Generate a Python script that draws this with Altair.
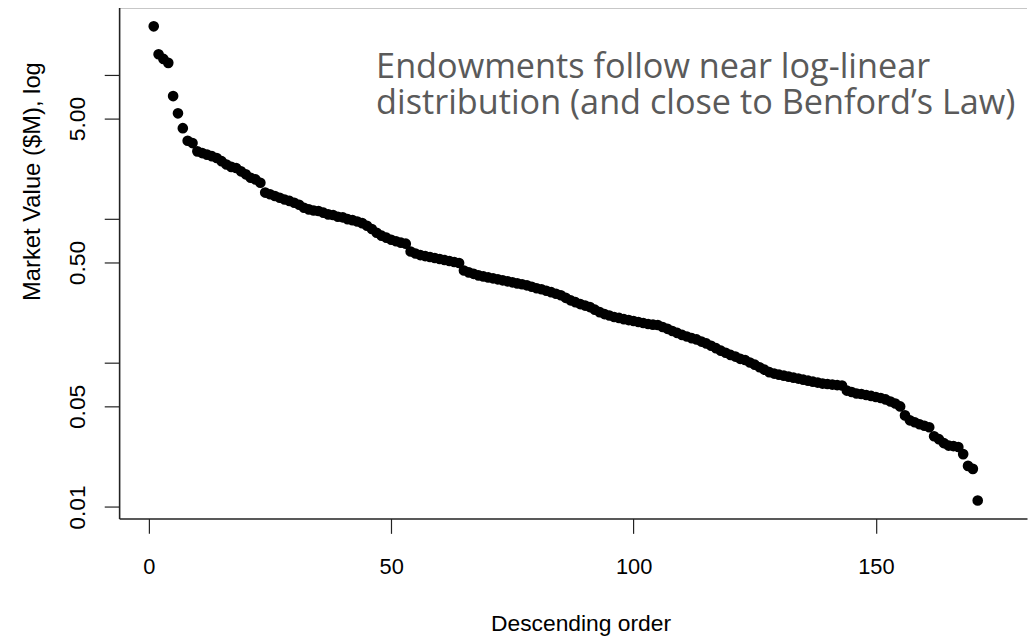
import altair as alt
import pandas as pd

# Market value ($M) of each endowment, in descending order
values = [
    21.9, 14.0, 13.0, 12.2, 7.17, 5.44, 4.29, 3.51, 3.38, 2.96,
    2.88, 2.81, 2.74, 2.66, 2.53, 2.40, 2.31, 2.27, 2.15, 2.05,
    1.94, 1.89, 1.79, 1.53, 1.49, 1.45, 1.41, 1.37, 1.34, 1.30,
    1.26, 1.20, 1.17, 1.15, 1.14, 1.11, 1.08, 1.07, 1.04, 1.03,
    1.00, 0.985, 0.963, 0.939, 0.900, 0.854, 0.805, 0.768, 0.744, 0.720,
    0.703, 0.687, 0.676, 0.596, 0.577, 0.563, 0.554, 0.546, 0.537, 0.529,
    0.520, 0.512, 0.504, 0.496, 0.440, 0.427, 0.417, 0.407, 0.400, 0.394,
    0.388, 0.382, 0.376, 0.370, 0.364, 0.358, 0.353, 0.347, 0.339, 0.331,
    0.326, 0.318, 0.311, 0.303, 0.296, 0.284, 0.273, 0.265, 0.257, 0.251,
    0.245, 0.235, 0.226, 0.219, 0.214, 0.209, 0.206, 0.202, 0.199, 0.196,
    0.193, 0.190, 0.187, 0.185, 0.184, 0.178, 0.173, 0.167, 0.162, 0.157,
    0.153, 0.149, 0.146, 0.141, 0.137, 0.132, 0.127, 0.122, 0.118, 0.114,
    0.111, 0.107, 0.105, 0.101, 0.0975, 0.0936, 0.0900, 0.0865, 0.0845, 0.0831,
    0.0818, 0.0805, 0.0792, 0.0780, 0.0767, 0.0755, 0.0743, 0.0732, 0.0720, 0.0715,
    0.0709, 0.0703, 0.0698, 0.0644, 0.0629, 0.0615, 0.0610, 0.0600, 0.0591, 0.0581,
    0.0572, 0.0559, 0.0541, 0.0524, 0.0500, 0.0433, 0.0400, 0.0388, 0.0376, 0.0367,
    0.0358, 0.0310, 0.0296, 0.0278, 0.0267, 0.0265, 0.0261, 0.0233, 0.0193, 0.0184,
    0.0111,
]
ranks = list(range(1, len(values) + 1))

x_ticks = [0, 50, 100, 150]
y_ticks = [0.01, 0.05, 0.1, 0.5, 1, 5, 10]
y_unlabelled = [0.1, 1, 10]
note_lines = ["Endowments follow near log-linear",
              "distribution (and close to Benford\u2019s Law)"]

df = pd.DataFrame({"rank": ranks, "value": values})
one_row = pd.DataFrame({"k": [0]})

W, H = 915, 515
FONT = "Liberation Sans"

hide_expr = " || ".join(f"datum.value == {v}" for v in y_unlabelled)

x_enc = alt.X(
    "rank:Q",
    scale=alt.Scale(domain=[-6.14, 181.17], nice=False, zero=False),
    axis=alt.Axis(
        values=x_ticks, title="Descending order", grid=False,
        tickSize=15, tickWidth=1.2, tickColor="#222",
        domainColor="#222", domainWidth=1.6,
        labelFont=FONT, labelFontSize=22, labelColor="black",
        labelBaseline="alphabetic", labelPadding=40, labelFlush=False,
        titleFont=FONT, titleFontSize=23, titleFontWeight="normal",
        titleColor="black", titleBaseline="alphabetic",
        titleX=465, titleY=113, titleAlign="center",
    ),
)
y_enc = alt.Y(
    "value:Q",
    scale=alt.Scale(type="log", domain=[0.00832, 29.6], nice=False),
    axis=alt.Axis(
        values=y_ticks, title="Market Value ($M), log", grid=False,
        labelExpr=f"({hide_expr}) ? '' : format(datum.value, '.2f')",
        tickSize=15, tickWidth=1.2, tickColor="#222",
        domainColor="#222", domainWidth=1.6,
        labelFont=FONT, labelFontSize=23, labelColor="black",
        labelAngle=270, labelAlign="center", labelBaseline="alphabetic",
        labelPadding=20, labelOverlap=False, labelFlush=False,
        titleFont=FONT, titleFontSize=24, titleFontWeight="normal",
        titleColor="black", titleAngle=270, titleAlign="center",
        titleBaseline="alphabetic", titleX=-80, titleY=175,
    ),
)

points = alt.Chart(df).mark_circle(size=115, color="black", opacity=1).encode(
    x=x_enc, y=y_enc
)

top_line = alt.Chart(one_row).mark_rule(color="#222", strokeWidth=1.6).encode(
    x=alt.value(0), x2=alt.value(W), y=alt.value(0)
)

note = alt.Chart(one_row).mark_text(
    align="left", baseline="alphabetic", font="Open Sans",
    fontSize=34.5, color="#5a5a5a", lineHeight=36,
).encode(
    x=alt.value(259), y=alt.value(71), text=alt.value(note_lines)
)

chart = alt.layer(points, top_line, note).properties(
    width=W, height=H,
    autosize=alt.AutoSizeParams(type="none"),
    padding={"left": 112, "top": -3, "right": 1, "bottom": 118},
).configure_view(stroke=None)

chart.save("out.html", embed_options={"renderer": "svg", "actions": False})
